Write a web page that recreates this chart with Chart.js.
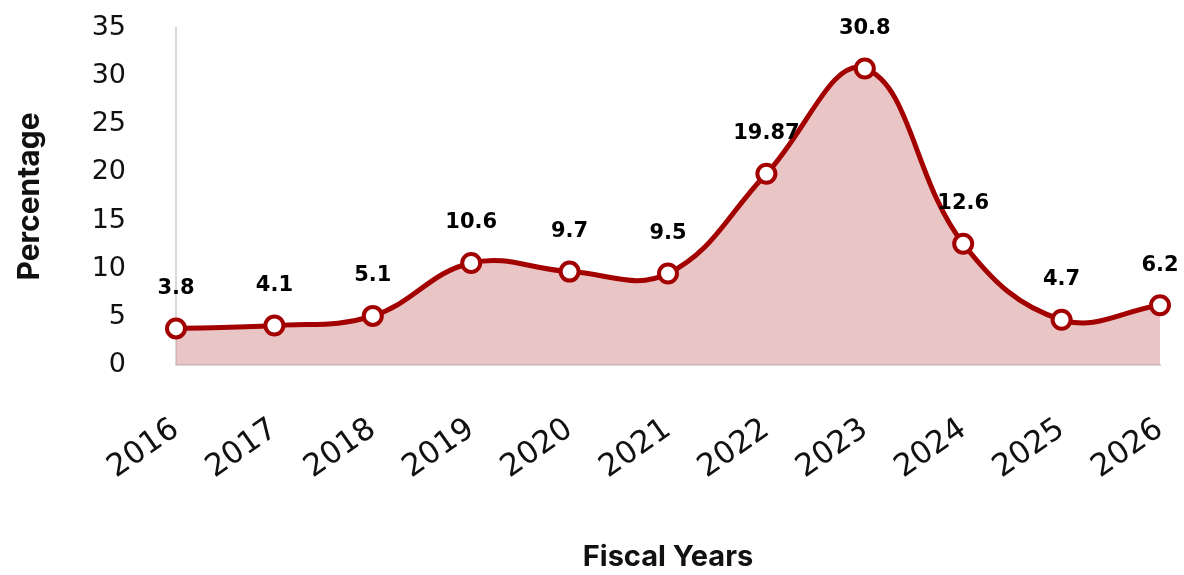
<!DOCTYPE html>
<html>
<head>
<meta charset="utf-8">
<script src="https://cdn.jsdelivr.net/npm/chart.js@4/dist/chart.umd.min.js"></script>
<style>
  html, body { margin: 0; padding: 0; background: #fff; }
  #wrap { width: 1184px; height: 575px; }
</style>
</head>
<body>
<div id="wrap"><canvas id="chart"></canvas></div>
<script>
// Data
const years = ["2016", "2017", "2018", "2019", "2020", "2021", "2022", "2023", "2024", "2025", "2026"];
const percentValues = [3.8, 4.1, 5.1, 10.6, 9.7, 9.5, 19.87, 30.8, 12.6, 4.7, 6.2];
const yTickMax = 35;
const yTickStep = 5;

const lineColor = "#A30000";
const areaColor = "rgba(214, 140, 140, 0.5)";

// Draws the bold value above each point
const valueLabels = {
    id: "valueLabels",
    afterDatasetsDraw(chart) {
        const ctx = chart.ctx;
        const meta = chart.getDatasetMeta(0);
        ctx.save();
        ctx.font = "bold 21px 'DejaVu Sans'";
        ctx.fillStyle = "#000";
        ctx.textAlign = "center";
        ctx.textBaseline = "middle";
        meta.data.forEach((pt, i) => {
            ctx.fillText(String(percentValues[i]), pt.x, pt.y - 40);
        });
        ctx.restore();
    }
};

const contexto = document.getElementById("chart");
const chart = new Chart(contexto, {
    type: "line",
    data: {
        labels: years,
        datasets: [
            {
                label: "Percentage",
                data: percentValues,
                borderColor: lineColor,
                borderWidth: 5,
                backgroundColor: areaColor,
                fill: "origin",
                tension: 0.4,
                pointRadius: 9,
                pointBorderWidth: 4,
                pointBackgroundColor: "#fff",
                pointBorderColor: lineColor,
            },
        ],
    },
    options: {
        responsive: true,
        maintainAspectRatio: false,
        animation: false,
        layout: { padding: { top: 28, left: 12, right: 24, bottom: 0 } },
        plugins: {
            legend: { display: false },
            tooltip: { enabled: false },
        },
        scales: {
            x: {
                offset: false,
                grid: { display: false, drawTicks: false },
                border: { display: true, color: "#D9D9D9", width: 2 },
                ticks: {
                    color: "#111",
                    font: { family: "'DejaVu Sans'", size: 31 },
                    minRotation: 35,
                    maxRotation: 35,
                    padding: 46,
                },
                title: {
                    display: true,
                    text: "Fiscal Years",
                    color: "#111",
                    font: { family: "Inter", size: 29, weight: "bold" },
                    padding: { top: 0, bottom: 0 },
                },
                afterFit(scale) {
                    scale.height = 575 - 365;
                    scale.paddingLeft = 0;
                    scale.paddingRight = 0;
                },
            },
            y: {
                min: 0,
                max: yTickMax,
                grid: { display: false, drawTicks: false },
                border: { display: true, color: "#D9D9D9", width: 2 },
                ticks: {
                    stepSize: yTickStep,
                    color: "#111",
                    font: { family: "'DejaVu Sans'", size: 27 },
                    padding: 50,
                },
                title: {
                    display: true,
                    text: "Percentage",
                    color: "#111",
                    font: { family: "Inter", size: 30, weight: "bold" },
                    padding: { top: 0, bottom: 0 },
                },
                afterFit(scale) {
                    scale.width = 176 - 12;
                    scale.paddingTop = 0;
                    scale.paddingBottom = 0;
                },
            },
        },
    },
    plugins: [valueLabels],
});
</script>
</body>
</html>
